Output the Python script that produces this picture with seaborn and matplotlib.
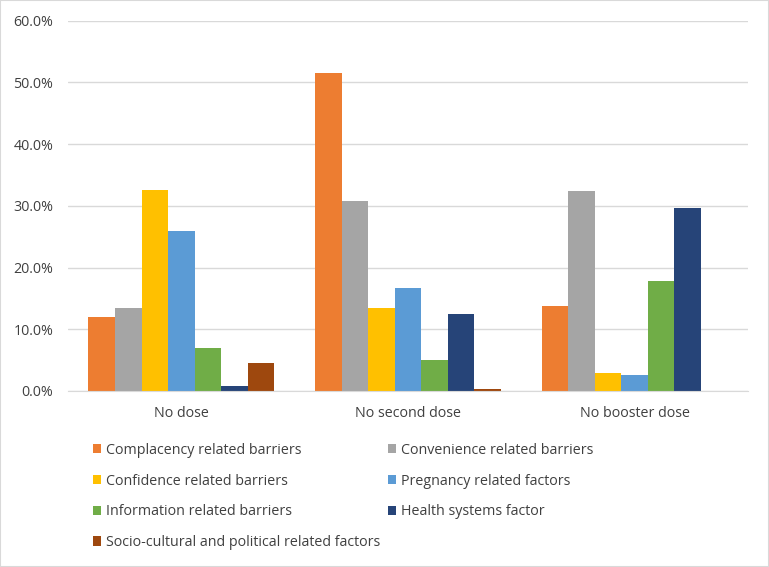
"""Vaccine uptake barriers by dose status, grouped bar chart."""

import matplotlib.pyplot as plt
import matplotlib.ticker as mticker
import pandas as pd
import seaborn as sns
from matplotlib.patches import Rectangle

categories = ["No dose", "No second dose", "No booster dose"]
factors = [
    "Complacency related barriers",
    "Convenience related barriers",
    "Confidence related barriers",
    "Pregnancy related factors",
    "Information related barriers",
    "Health systems factor",
    "Socio-cultural and political related factors",
]
complacency = [12.0, 51.5, 13.8]
convenience = [13.4, 30.8, 32.4]
confidence = [32.5, 13.5, 2.9]
pregnancy = [25.9, 16.7, 2.6]
information = [7.0, 5.0, 17.8]
health_systems = [0.8, 12.4, 29.7]
socio_cultural = [4.5, 0.3, 0.0]

colors = ["#ED7D31", "#A5A5A5", "#FFC000", "#5B9BD5", "#70AD47", "#264478", "#9E480E"]

series = [complacency, convenience, confidence, pregnancy, information,
          health_systems, socio_cultural]
rows = []
for name, vals in zip(factors, series):
    for cat, v in zip(categories, vals):
        rows.append({"category": cat, "factor": name, "value": v})
df = pd.DataFrame(rows)

sns.set_style("white")
plt.rcParams["font.family"] = ["Open Sans", "DejaVu Sans"]

W, H = 769, 567
fig = plt.figure(figsize=(W / 100, H / 100), dpi=100)
ax = fig.add_axes([68 / W, (H - 391) / H, 680 / W, 370.3 / H])

sns.barplot(
    data=df, x="category", y="value", hue="factor", order=categories,
    hue_order=factors, palette=colors, width=0.82, saturation=1,
    linewidth=0, ax=ax, legend=True,
)

ax.set_ylim(0, 60)
ax.set_xlim(-0.5, 2.5)
ax.yaxis.set_major_locator(mticker.MultipleLocator(10))
ax.yaxis.set_major_formatter(mticker.FuncFormatter(lambda v, _: f"{v:.1f}%"))
ax.grid(axis="y", color="#D9D9D9", linewidth=1)
ax.set_axisbelow(True)
for side in ["left", "right", "top"]:
    ax.spines[side].set_visible(False)
ax.spines["bottom"].set_color("#D9D9D9")
ax.tick_params(axis="both", length=0, labelsize=10.3, colors="#404040")
ax.tick_params(axis="y", pad=10.5)
ax.tick_params(axis="x", pad=11)
ax.set_xlabel("")
ax.set_ylabel("")

# Excel-style legend: row-major order in two columns
handles, labels = ax.get_legend_handles_labels()
ax.get_legend().remove()
order = [0, 2, 4, 6, 1, 3, 5]
leg = fig.legend(
    [handles[i] for i in order], [labels[i] for i in order],
    loc="upper left", bbox_to_anchor=(80 / W, 1 - 430 / H), ncol=2,
    frameon=False, fontsize=10.3, handlelength=0.6, handleheight=0.6,
    handletextpad=0.35, columnspacing=0.5, labelspacing=1.1,
    labelcolor="#404040",
)

fig.patches.append(Rectangle((0, 0), 1, 1, transform=fig.transFigure,
                             fill=False, edgecolor="#D9D9D9", linewidth=1.5))

fig.savefig("out.png", dpi=100)
plt.close(fig)
